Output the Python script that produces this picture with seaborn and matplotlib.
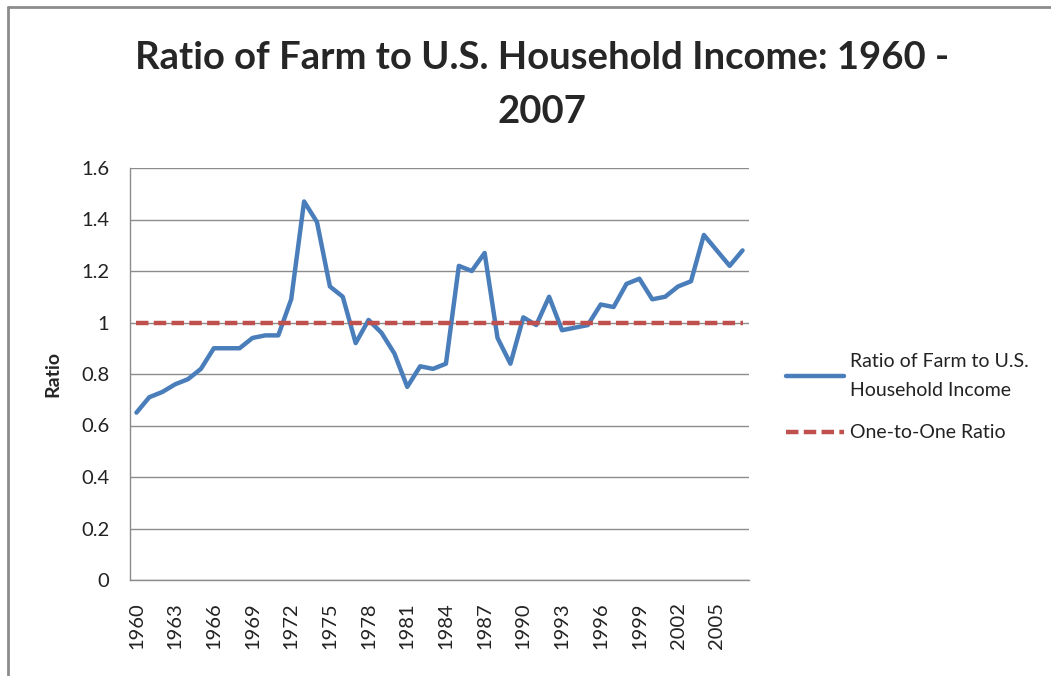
import numpy as np
import pandas as pd
import matplotlib
matplotlib.use("Agg")
import matplotlib.pyplot as plt
from matplotlib.lines import Line2D
import seaborn as sns

# data
years = list(range(1960, 2008))
farm_ratio = [0.65, 0.71, 0.73, 0.76, 0.78, 0.82, 0.90, 0.90, 0.90, 0.94,
              0.95, 0.95, 1.09, 1.47, 1.39, 1.14, 1.10, 0.92, 1.01, 0.96,
              0.88, 0.75, 0.83, 0.82, 0.84, 1.22, 1.20, 1.27, 0.94, 0.84,
              1.02, 0.99, 1.10, 0.97, 0.98, 0.99, 1.07, 1.06, 1.15, 1.17,
              1.09, 1.10, 1.14, 1.16, 1.34, 1.28, 1.22, 1.28]
one_to_one = [1.0] * len(years)
y_ticks = [0, 0.2, 0.4, 0.6, 0.8, 1.0, 1.2, 1.4, 1.6]
y_tick_labels = ["0", "0.2", "0.4", "0.6", "0.8", "1", "1.2", "1.4", "1.6"]

title = "Ratio of Farm to U.S. Household Income: 1960 -\n2007"
label_farm = "Ratio of Farm to U.S.\nHousehold Income"
label_one = "One-to-One Ratio"

df = pd.DataFrame({"pos": np.arange(len(years)), "year": years,
                   "farm": farm_ratio, "one": one_to_one})

sns.set_style("white")
plt.rcParams["font.family"] = ["Lato", "DejaVu Sans"]

fig = plt.figure(figsize=(10.51, 6.76), dpi=100)
ax = fig.add_axes([130 / 1051, 1 - 580 / 676, 619 / 1051, 412 / 676])

sns.lineplot(data=df, x="pos", y="farm", ax=ax, color="#4A7EBB", lw=3.2,
             label=label_farm)
sns.lineplot(data=df, x="pos", y="one", ax=ax, color="#C0504D", lw=3.2,
             dashes=False, label=label_one)
ax.lines[1].set_dashes((2.8, 1.2))

ax.set_xlim(-0.5, len(years) - 0.5)
ax.set_ylim(0, 1.6)
ax.set_yticks(y_ticks)
ax.set_yticklabels(y_tick_labels)
tick_pos = df["pos"][::3]
ax.set_xticks(tick_pos)
ax.set_xticklabels([str(y) for y in df["year"][::3]], rotation=90)
ax.tick_params(axis="x", length=0, pad=16, labelsize=14.5, colors="#222222")
ax.tick_params(axis="y", length=0, pad=15, labelsize=14.5, colors="#222222")

ax.set_xlabel("")
ax.set_ylabel("Ratio", fontsize=14, fontweight="bold", labelpad=14)
ax.grid(axis="y", color="#8c8c8c", lw=1)
ax.set_axisbelow(True)
for s in ["top", "right"]:
    ax.spines[s].set_visible(False)
for s in ["left", "bottom"]:
    ax.spines[s].set_color("#8c8c8c")
    ax.spines[s].set_linewidth(1)

leg = ax.legend(loc="center left", bbox_to_anchor=(768 / 1051, 1 - 397 / 676),
                bbox_transform=fig.transFigure, frameon=False, fontsize=14,
                handlelength=3.0, handletextpad=0.3, labelspacing=1.3)
for t in leg.get_texts():
    t.set_color("#222222")
    t.set_linespacing(1.9)

fig.text(0.516, 1 - 85 / 676, title, ha="center", va="center",
         fontsize=27.5, fontweight="bold", linespacing=1.7)

# chart-area border (left and top edges visible in the reference)
fig.add_artist(Line2D([7.5 / 1051, 7.5 / 1051], [0, 1 - 6.5 / 676],
                      transform=fig.transFigure, color="#8c8c8c", lw=2))
fig.add_artist(Line2D([7.5 / 1051, 1], [1 - 6.5 / 676, 1 - 6.5 / 676],
                      transform=fig.transFigure, color="#8c8c8c", lw=2))

fig.savefig("out.png", dpi=100)
